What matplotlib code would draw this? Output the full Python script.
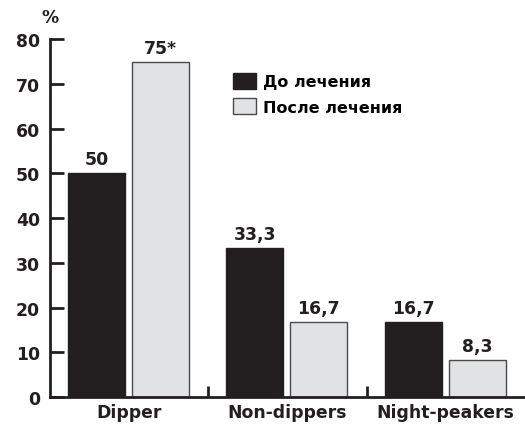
import numpy as np
import matplotlib.pyplot as plt

plt.rcParams['font.family'] = ['DejaVu Sans']
plt.rcParams['font.weight'] = 'bold'

groups = ["Dipper", "Non-dippers", "Night-peakers"]
before = [50, 33.3, 16.7]
after = [75, 16.7, 8.3]
before_lbl = ["50", "33,3", "16,7"]
after_lbl = ["75*", "16,7", "8,3"]
series_names = ["До лечения", "После лечения"]

ink = '#231f20'

fig = plt.figure(figsize=(5.25, 4.27), dpi=100)
ax = fig.add_axes([0.095, 0.068, 0.905, 0.838])

x = np.arange(len(groups))
w = 0.36
ax.bar(x + 0.114, before, w, align='edge', color=ink,
       edgecolor=ink, linewidth=1, label=series_names[0])
ax.bar(x + 0.518, after, w, align='edge', color='#e1e2e4',
       edgecolor='#4a4a4a', linewidth=1, label=series_names[1])

for xi, v, s in zip(x + 0.114 + w / 2, before, before_lbl):
    ax.text(xi, v + 1.1, s, ha='center', va='bottom', fontsize=12.4, fontweight='bold', color=ink)
for xi, v, s in zip(x + 0.518 + w / 2, after, after_lbl):
    ax.text(xi, v + 1.1, s, ha='center', va='bottom', fontsize=12.4, fontweight='bold', color=ink)

ax.set_xlim(0, 3)
ax.set_ylim(0, 80)
ax.set_yticks(np.arange(0, 81, 10))
ax.set_xticks([1, 2])
ax.set_xticklabels([])
ax.tick_params(axis='y', direction='in', length=10, width=2, labelsize=12.4, pad=7, colors=ink)
ax.tick_params(axis='x', direction='in', length=8, width=2, colors=ink)
for lb in ax.get_yticklabels():
    lb.set_fontweight('bold')

for i, g in enumerate(groups):
    ax.text(i + 0.5, -1.3, g, ha='center', va='top', fontsize=12.4, fontweight='bold',
            color=ink, clip_on=False)

for sp in ['top', 'right']:
    ax.spines[sp].set_visible(False)
for sp in ['left', 'bottom']:
    ax.spines[sp].set_linewidth(2)
    ax.spines[sp].set_color(ink)

# percent sign above the y axis
ax.text(-0.0, 82.9, "%", ha='center', va='bottom', fontsize=12.4, fontweight='bold', color=ink,
        clip_on=False)

ax.legend(loc='upper left', bbox_to_anchor=(0.385, 0.905), frameon=False,
          prop={'weight': 'bold', 'size': 11.5}, handlelength=1.45, handleheight=1.15,
          handletextpad=0.45, labelspacing=0.55, borderaxespad=0, borderpad=0)

fig.savefig("out.png", dpi=100)
